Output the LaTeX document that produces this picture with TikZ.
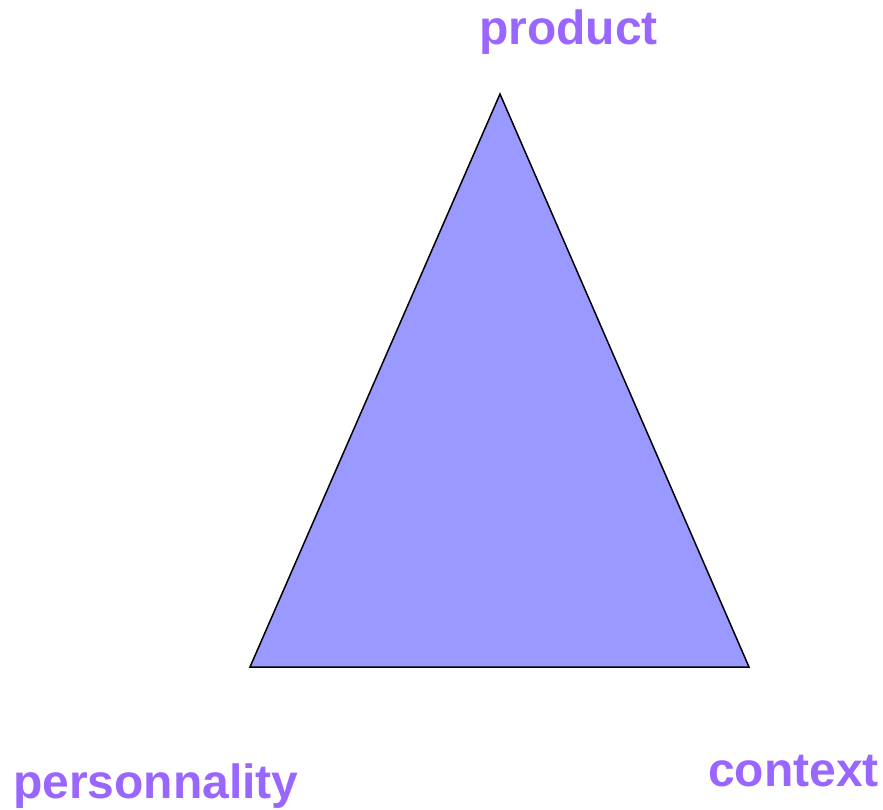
\documentclass[tikz,border=0pt]{standalone}
\usepackage{fontspec}
\setmainfont{Liberation Sans}
\definecolor{labelpurple}{HTML}{9966FF}
\definecolor{trifill}{HTML}{9999FF}
\begin{document}
\begin{tikzpicture}[x=1pt,y=-1pt,
  lbl/.style={anchor=base west,inner sep=0pt,text=labelpurple,font=\fontsize{48}{57}\selectfont\bfseries}]
\useasboundingbox (0,0) rectangle (883,809);
\coordinate (top) at (500,94);
\coordinate (bl) at (250,667);
\coordinate (br) at (749,667);
\draw[fill=trifill,line width=1.5pt,line join=miter] (top) -- (br) -- (bl) -- cycle;
\node[lbl] (product) at (479,44) {product};
\node[lbl] (personnality) at (13,798) {personnality};
\node[lbl] (context) at (708,786) {context};
\end{tikzpicture}
\end{document}
